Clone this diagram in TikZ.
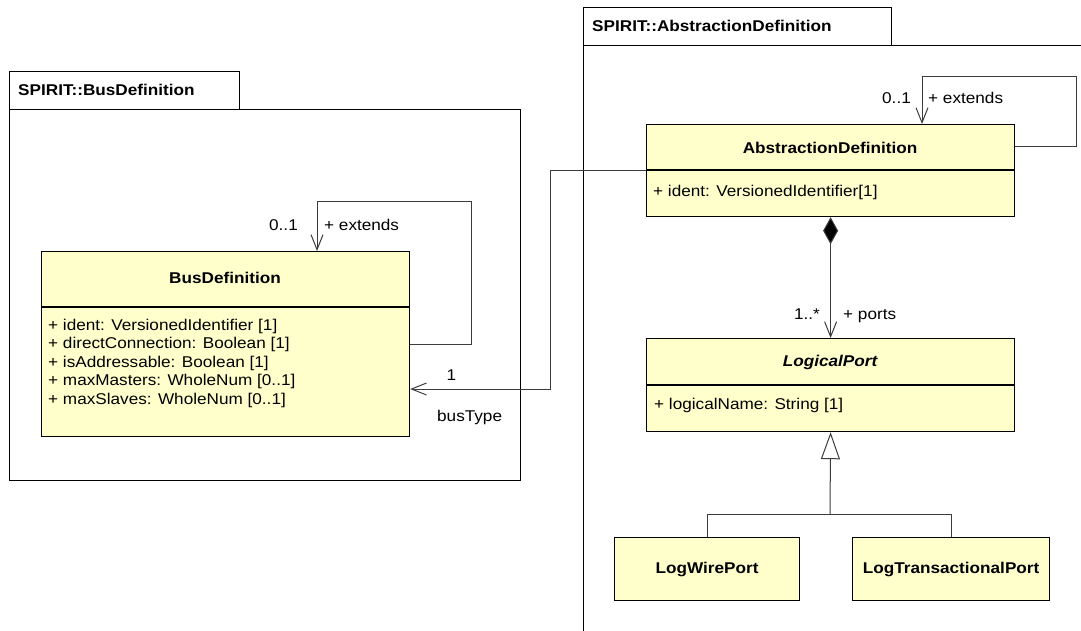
\documentclass[tikz,border=0pt]{standalone}
\usepackage{fontspec}
\setmainfont{Liberation Sans}[FakeStretch=1.1]
\usetikzlibrary{arrows.meta}
\definecolor{clsfill}{RGB}{255,255,204}
\definecolor{connc}{RGB}{60,60,60}
\begin{document}
\begin{tikzpicture}[x=1pt,y=-1pt,
  cls/.style={draw=black, line width=1.2pt, fill=clsfill, inner sep=0pt, anchor=north west},
  pkg/.style={draw=black, line width=1.1pt, fill=white, inner sep=0pt, anchor=north west},
  txt/.style={font=\fontsize{15.6}{18}\selectfont, inner sep=0pt, anchor=base west},
  lbl/.style={font=\fontsize{15.6}{18}\selectfont, inner sep=0pt},
  ttl/.style={font=\fontsize{15.6}{18}\selectfont\bfseries, inner sep=0pt, anchor=base},
  pkgttl/.style={font=\fontsize{15.6}{18}\selectfont\bfseries, inner sep=0pt, anchor=base west},
  conn/.style={draw=connc, line width=1pt},
  barb/.style={-{Straight Barb[length=15pt,width=12pt]}}
]
\useasboundingbox (0,0) rectangle (1081,630);
\clip (0,0) rectangle (1081,630);

% packages
\node[pkg, minimum width=230pt, minimum height=38pt] (ptab1) at (9,71) {};
\node[pkg, minimum width=511pt, minimum height=371pt] (pbody1) at (9,109) {};
\node[pkgttl] (ptitle1) at (18,95) {SPIRIT::BusDefinition};

\node[pkg, minimum width=308pt, minimum height=38pt] (ptab2) at (582.5,7) {};
\node[pkg, minimum width=620pt, minimum height=700pt] (pbody2) at (582.5,45) {};
\node[pkgttl] (ptitle2) at (592,31.7) {SPIRIT::AbstractionDefinition};

% classes
\node[cls, minimum width=368pt, minimum height=185pt] (bus) at (41,251) {};
\draw[line width=1.2pt] (bus.west |- 0,307) -- (bus.east |- 0,307);
\node[cls, minimum width=368pt, minimum height=92pt] (ad) at (646,124) {};
\draw[line width=1.2pt] (ad.west |- 0,170) -- (ad.east |- 0,170);
\node[cls, minimum width=368pt, minimum height=93pt] (lp) at (646,338) {};
\draw[line width=1.2pt] (lp.west |- 0,385) -- (lp.east |- 0,385);
\node[cls, minimum width=185pt, minimum height=63pt, font=\fontsize{15.6}{18}\selectfont\bfseries] (lw) at (614,537) {LogWirePort};
\node[cls, minimum width=197pt, minimum height=63pt, font=\fontsize{15.6}{18}\selectfont\bfseries] (lt) at (852,537) {LogTransactionalPort};

% connectors
\coordinate (bl) at (471,201);
\draw[conn, barb] (bus.east) -| (bl) -| (bus.north -| 317,0);
\coordinate (al) at (1076,76);
\draw[conn, barb] (ad.east |- 0,146) -| (al) -| (ad.north -| 922,0);
\coordinate (bt) at (550,389);
\draw[conn, barb] (ad.west) -| (bt) -- (bus.east |- bt);
\draw[conn, {Diamond[length=27pt,width=15pt,fill=black]}-{Straight Barb[length=15pt,width=12pt]}] (ad.south) -- (lp.north);
\coordinate (gj) at (830,514);
\draw[conn, -{Triangle[length=27pt,width=19pt,fill=white]}] (gj) -- (lp.south);
\draw[conn] (lw.north) |- (gj) -| (lt.north);

% class texts
\node[ttl] (busT) at (225,283) {BusDefinition};
\node[txt] (ba1) at (48,330) {+ ident: VersionedIdentifier [1]};
\node[txt] (ba2) at (48,348.5) {+ directConnection: Boolean [1]};
\node[txt] (ba3) at (48,367) {+ isAddressable: Boolean [1]};
\node[txt] (ba4) at (48,385.5) {+ maxMasters: WholeNum [0..1]};
\node[txt] (ba5) at (48,404) {+ maxSlaves: WholeNum [0..1]};

\node[ttl] (adT) at (830,153) {AbstractionDefinition};
\node[txt] (ad1) at (653,196.5) {+ ident: VersionedIdentifier[1]};

\node[ttl, font=\fontsize{15.6}{18}\selectfont\bfseries\itshape] (lpT) at (830,366.5) {LogicalPort};
\node[txt] (lp1) at (654,409) {+ logicalName: String [1]};

% connector labels
\node[lbl, anchor=base east] (l1) at (298,230.5) {0..1};
\node[lbl, anchor=base west] (l2) at (324,230.5) {+ extends};
\node[lbl, anchor=base west] (l3) at (446.5,380) {1};
\node[lbl, anchor=base west] (l4) at (437,421) {busType};
\node[lbl, anchor=base east] (l5) at (911,103.3) {0..1};
\node[lbl, anchor=base west] (l6) at (928,103.3) {+ extends};
\node[lbl, anchor=base east] (l7) at (820,319.3) {1..*};
\node[lbl, anchor=base west] (l8) at (843,319.3) {+ ports};
\end{tikzpicture}
\end{document}
